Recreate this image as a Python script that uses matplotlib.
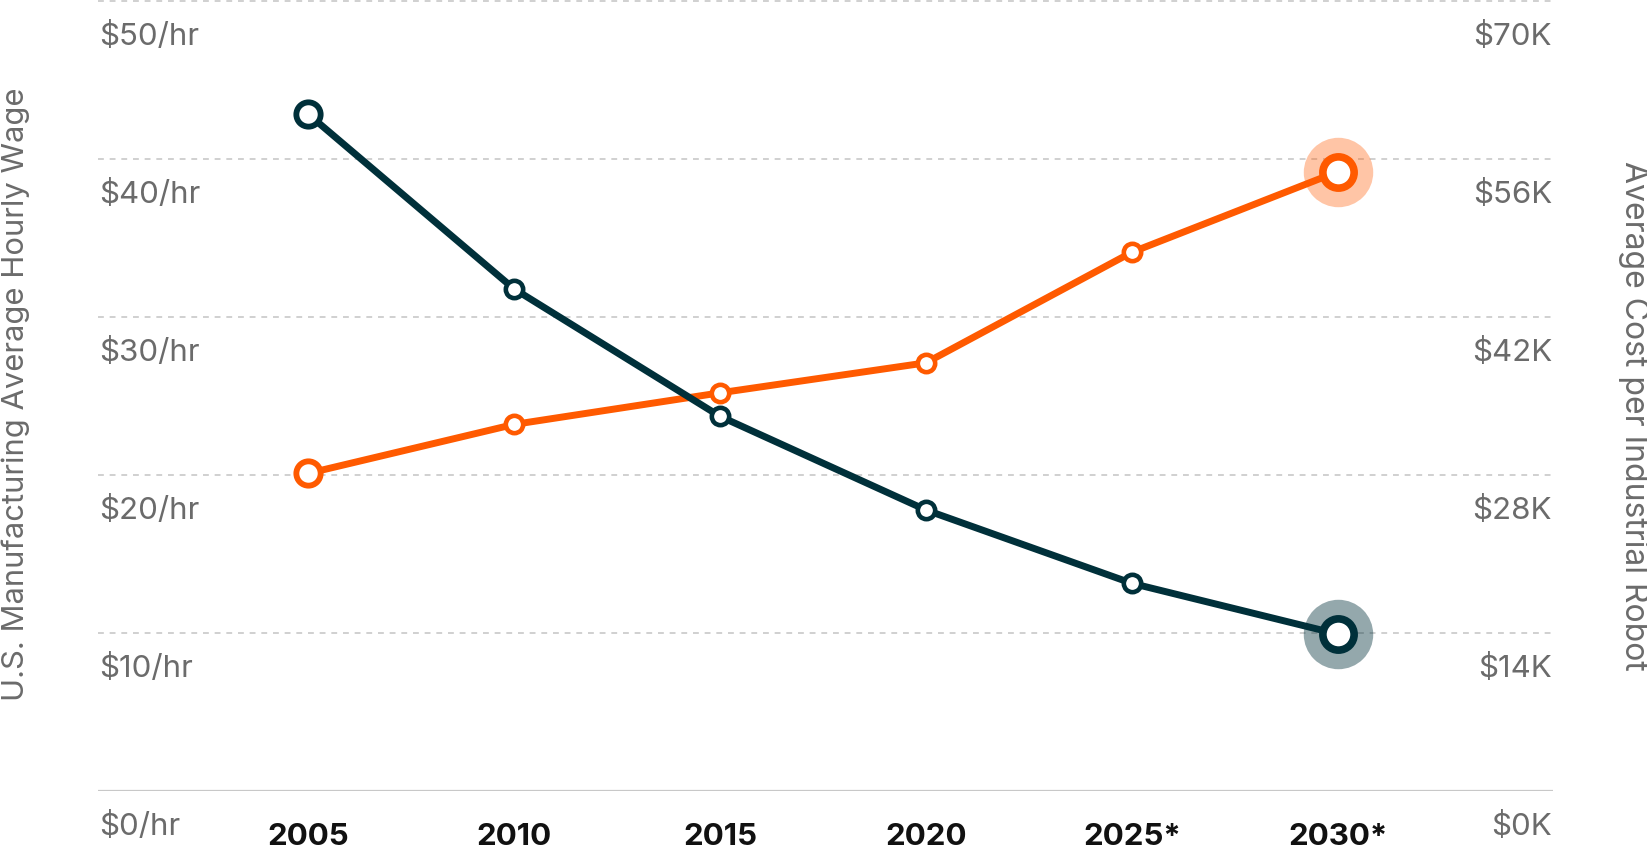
import matplotlib
matplotlib.use("Agg")
import matplotlib.pyplot as plt
from matplotlib.transforms import offset_copy

# ---- data ----
years = ["2005", "2010", "2015", "2020", "2025*", "2030*"]
wage = [20.1, 23.2, 25.2, 27.1, 34.1, 39.2]          # $/hr (left axis)
robot_cost = [60.0, 44.5, 33.2, 24.9, 18.4, 13.9]    # $K (right axis)
left_ticks = [0, 10, 20, 30, 40, 50]
left_labels = ["$0/hr", "$10/hr", "$20/hr", "$30/hr", "$40/hr", "$50/hr"]
right_ticks = [0, 14, 28, 42, 56, 70]
right_labels = ["$0K", "$14K", "$28K", "$42K", "$56K", "$70K"]
left_title = "U.S. Manufacturing Average Hourly Wage"
right_title = "Average Cost per Industrial Robot"

ORANGE = "#FF5A00"
DARK = "#00303A"
GRID = "#C8C8C8"
LABEL = "#6B6B6B"

plt.rcParams["font.family"] = ["Inter", "DejaVu Sans"]

W, H, DPI = 1647, 850, 100
fig = plt.figure(figsize=(W / DPI, H / DPI), dpi=DPI)
ax = fig.add_axes([98 / W, 59 / H, (1553 - 98) / W, (849 - 59) / H])
ax2 = ax.twinx()

x = list(range(len(years)))
for a in (ax, ax2):
    a.set_xlim(-1.019, 6.044)
    for s in a.spines.values():
        s.set_visible(False)
    a.tick_params(axis="y", left=False, right=False, labelleft=False, labelright=False)
ax.set_ylim(0, 50)
ax2.set_ylim(0, 70)
ax.patch.set_alpha(0)
ax2.patch.set_alpha(0)

# grid lines
for v in left_ticks:
    if v == 0:
        ax.axhline(v, color=GRID, lw=1.6, zorder=1)
    else:
        ax.axhline(v, color=GRID, lw=1.2, ls=(0, (3.5, 3.5)), zorder=1, clip_on=False)

# y tick labels placed below grid lines
tl = offset_copy(ax.get_yaxis_transform(), fig=fig, x=1, y=-36, units="dots")
for v, lab in zip(left_ticks, left_labels):
    ax.text(0, v, lab, transform=tl, ha="left", va="center", fontsize=22.5, color=LABEL)
tr = offset_copy(ax2.get_yaxis_transform(), fig=fig, x=-1, y=-36, units="dots")
for v, lab in zip(right_ticks, right_labels):
    ax2.text(1, v, lab, transform=tr, ha="right", va="center", fontsize=22.5, color=LABEL)

# x tick labels
ax.set_xticks(x)
ax.set_xticklabels(years, fontsize=22.5, fontweight="bold", color="#111111")
ax.tick_params(axis="x", length=0, pad=23)
ax2.tick_params(axis="x", length=0, labelbottom=False)

# wage line (orange)
ax.plot(x, wage, color=ORANGE, lw=5, zorder=3, solid_capstyle="round")
ax.plot(x[-1], wage[-1], "o", ms=50, color=ORANGE, alpha=0.35, mec="none", zorder=2)
for i, (xi, yi) in enumerate(zip(x, wage)):
    if i == len(x) - 1:
        ms, mew = 22.5, 5.5
    elif i == 0:
        ms, mew = 17.5, 4.2
    else:
        ms, mew = 12.5, 3.3
    ax.plot(xi, yi, "o", ms=ms, mfc="white", mec=ORANGE, mew=mew, zorder=4)

# robot line (dark)
ax2.plot(x, robot_cost, color=DARK, lw=5, zorder=3, solid_capstyle="round")
ax2.plot(x[-1], robot_cost[-1], "o", ms=50, color=DARK, alpha=0.42, mec="none", zorder=2)
for i, (xi, yi) in enumerate(zip(x, robot_cost)):
    if i == len(x) - 1:
        ms, mew = 22.5, 5.5
    elif i == 0:
        ms, mew = 17.5, 4.2
    else:
        ms, mew = 12.5, 3.3
    ax2.plot(xi, yi, "o", ms=ms, mfc="white", mec=DARK, mew=mew, zorder=4)

# axis titles
fig.text(16 / W, 1 - 394 / H, left_title, rotation=90, ha="center", va="center",
         fontsize=22.3, color=LABEL)
fig.text(1633 / W, 1 - 416 / H, right_title, rotation=270, ha="center", va="center",
         fontsize=23, color=LABEL)

fig.savefig("out.png", dpi=DPI)
